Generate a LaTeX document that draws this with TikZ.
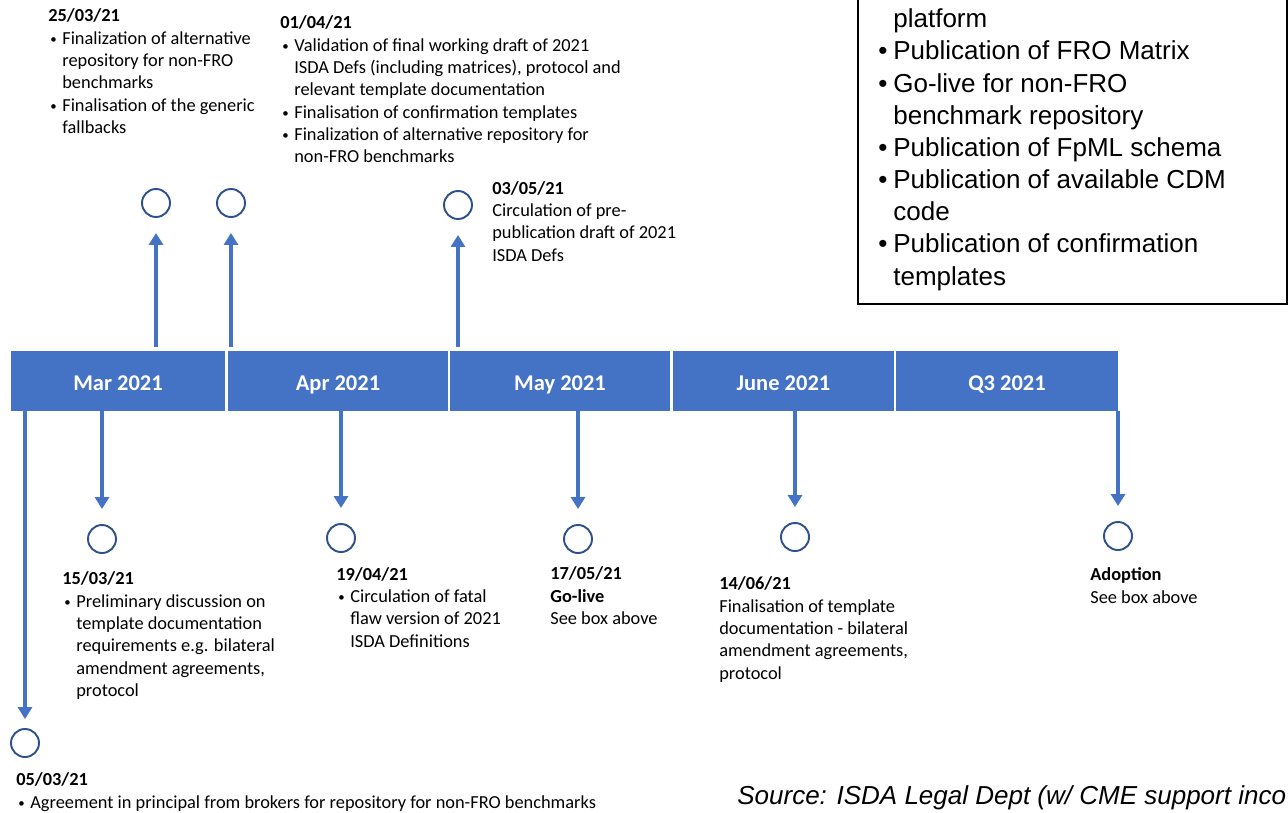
\documentclass[tikz,border=0pt]{standalone}
\usepackage{fontspec}
\setmainfont{Carlito}
\newfontfamily\boxfont{Liberation Sans}
\usetikzlibrary{arrows.meta}
\usetikzlibrary{calc}

\definecolor{barblue}{HTML}{4472C4}
\definecolor{ringblue}{HTML}{2F528F}

\newcommand{\bul}{\hspace*{0.04cm}\makebox[0.24cm][l]{\raisebox{0.1ex}{\scalebox{0.7}{\textbullet}}}}
\newcommand{\ind}{\hspace*{0.28cm}}
\newcommand{\bxbul}{\makebox[0.30cm][l]{\textbullet}}
\newcommand{\bxind}{\hspace*{0.30cm}}

\tikzset{
  month/.style={rectangle, fill=barblue, text=white, inner sep=0pt, minimum height=1.2cm,
    text height=0.36cm, text depth=0cm,
    font=\fontsize{12.8pt}{15pt}\selectfont\bfseries},
  ring/.style={circle, draw=ringblue, line width=1.1pt, minimum size=0.56cm, inner sep=0pt},
  % base west = baseline of the last line
  evtext/.style={anchor=base west, align=left, inner sep=0pt,
    font=\fontsize{10.45pt}{12.7pt}\selectfont},
  uparrow/.style={barblue, line width=0.07cm, -{Triangle[width=0.28cm,length=0.24cm]},
    shorten <=0.08cm, shorten >=0.3cm},
  downarrow/.style={barblue, line width=0.07cm, -{Triangle[width=0.28cm,length=0.24cm]},
    shorten >=0.3cm}
}

\begin{document}
\begin{tikzpicture}[x=0.02cm, y=-0.02cm]

\useasboundingbox (0,0) rectangle (1288,812);

% the time bar
\node[month, minimum width=4.28cm] (mar) at (118,381) {Mar 2021};
\node[month, minimum width=4.40cm] (apr) at (338,381) {Apr 2021};
\node[month, minimum width=4.40cm] (may) at (560,381) {May 2021};
\node[month, minimum width=4.42cm] (jun) at (783.5,381) {June 2021};
\node[month, minimum width=4.44cm] (q3)  at (1007,381) {Q3 2021};

% milestones above the bar
\node[ring] (c2503) at (156,203) {};
\node[ring] (c0104) at (231,203) {};
\node[ring] (c0305) at (458,205) {};

% milestones below the bar
\node[ring] (c1503) at (102,539) {};
\node[ring] (c1904) at (341,538) {};
\node[ring] (c1705) at (578,539) {};
\node[ring] (c1406) at (795,537) {};
\node[ring] (cadopt) at (1118,536) {};
\node[ring] (c0503) at (25,743) {};

% arrows from the bar to the milestones
\draw[uparrow] (c2503 |- mar.north) -- (c2503);
\draw[uparrow] (c0104 |- apr.north) -- (c0104);
\draw[uparrow] (c0305 |- may.north) -- (c0305);

\draw[downarrow] (c1503 |- mar.south) -- (c1503);
\draw[downarrow] (c1904 |- apr.south) -- (c1904);
\draw[downarrow] (c1705 |- may.south) -- (c1705);
\draw[downarrow] (c1406 |- jun.south) -- (c1406);
\draw[downarrow] (cadopt |- q3.south) -- (cadopt);
\draw[downarrow, shorten >=0.18cm] (c0503 |- mar.south) -- (c0503);

% texts of the milestones
\node[evtext] (t2503) at (48,133.5) {\textbf{25/03/21}\\
  \bul Finalization of alternative\\ \ind repository for non-FRO\\ \ind benchmarks\\
  \bul Finalisation of the generic\\ \ind fallbacks};

\node[evtext] (t0104) at (280,162.8) {\textbf{01/04/21}\\
  \bul Validation of final working draft of 2021\\
  \ind ISDA Defs (including matrices), protocol and\\
  \ind relevant template documentation\\
  \bul Finalisation of confirmation templates\\
  \bul Finalization of alternative repository for\\ \ind non-FRO benchmarks};

\node[evtext] (t0305) at (492,261) {\textbf{03/05/21}\\
  Circulation of pre-\\ publication draft of 2021\\ ISDA Defs};

\node[evtext] (t1503) at (62,696.5) {\textbf{15/03/21}\\
  \bul Preliminary discussion on\\ \ind template documentation\\
  \ind requirements e.g. bilateral\\ \ind amendment agreements,\\ \ind protocol};

\node[evtext] (t1904) at (336,647) {\textbf{19/04/21}\\
  \bul Circulation of fatal\\ \ind flaw version of 2021\\ \ind ISDA Definitions};

\node[evtext] (t1705) at (550,624.6) {\textbf{17/05/21}\\ \textbf{Go-live}\\ See box above};

\node[evtext] (t1406) at (719,679) {\textbf{14/06/21}\\
  Finalisation of template\\ documentation - bilateral\\ amendment agreements,\\ protocol};

\node[evtext] (tadopt) at (1090,603.3) {\textbf{Adoption}\\ See box above};

\node[evtext] (t0503) at (16,808) {\textbf{05/03/21}\\
  \bul Agreement in principal from brokers for repository for non-FRO benchmarks};

% the box on the right
\draw[line width=0.8pt] (858,-10) -- (858,304) -- (1287,304) -- (1287,-10);
\node[anchor=base west, align=left, inner sep=0pt,
  font=\boxfont\fontsize{14.8pt}{18.3pt}\selectfont] (golive) at (878,285) {%
  \bxind platform\\
  \bxbul Publication of FRO Matrix\\
  \bxbul Go-live for non-FRO\\ \bxind benchmark repository\\
  \bxbul Publication of FpML schema\\
  \bxbul Publication of available CDM\\ \bxind code\\
  \bxbul Publication of confirmation\\ \bxind templates};

% source
\node[anchor=base west, inner sep=0pt,
  font=\boxfont\itshape\fontsize{14.8pt}{18pt}\selectfont] (src) at (737,804)
  {Source: ISDA Legal Dept (w/ CME support inco};

\end{tikzpicture}
\end{document}
